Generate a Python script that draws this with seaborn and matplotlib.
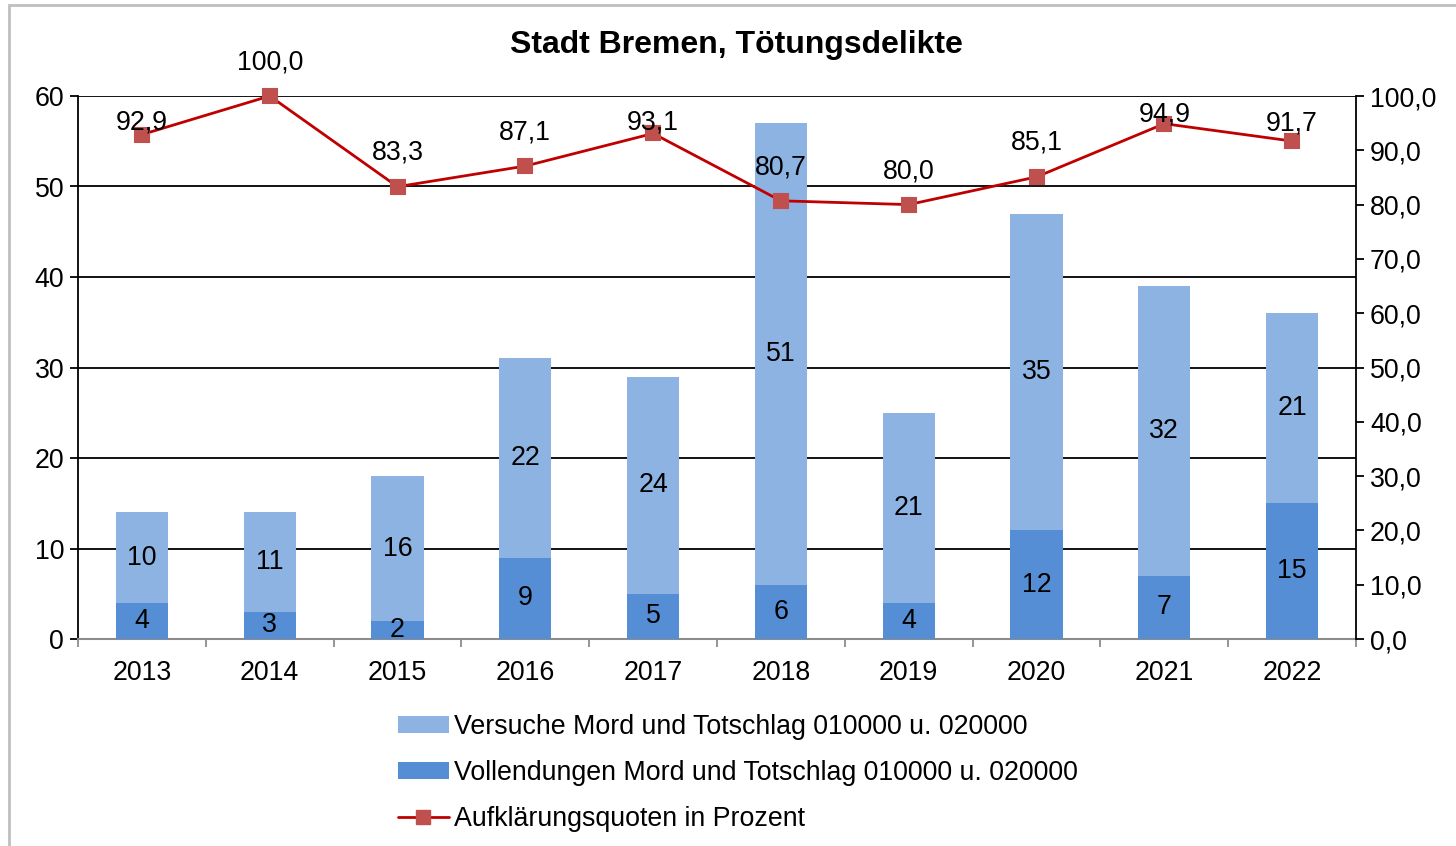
import numpy as np
import pandas as pd
import matplotlib
matplotlib.use("Agg")
import matplotlib.pyplot as plt
import seaborn as sns
from matplotlib.patches import Patch, Rectangle
from matplotlib.lines import Line2D

years = ["2013", "2014", "2015", "2016", "2017", "2018", "2019", "2020", "2021", "2022"]
vollendungen = [4, 3, 2, 9, 5, 6, 4, 12, 7, 15]
versuche = [10, 11, 16, 22, 24, 51, 21, 35, 32, 21]
quote = [92.9, 100.0, 83.3, 87.1, 93.1, 80.7, 80.0, 85.1, 94.9, 91.7]

# label offsets for the percentages (pixels above the marker)
label_dy = [12, 34, 34, 34, 11, 33, 33, 34, 9, 18]

light = "#8DB3E2"
dark = "#558ED5"
red_line = "#C00000"
red_mark = "#C0504D"
fs = 19.3

sns.set_style("white")
plt.rcParams["font.family"] = ["Liberation Sans", "DejaVu Sans"]
plt.rcParams["text.color"] = "black"
plt.rcParams["xtick.color"] = "black"
plt.rcParams["ytick.color"] = "black"

df = pd.DataFrame({"Jahr": years, "Vollendungen": vollendungen, "Versuche": versuche, "Quote": quote})
df["Gesamt"] = df["Vollendungen"] + df["Versuche"]

fig = plt.figure(figsize=(14.56, 8.46), dpi=100)
ax = fig.add_axes([78 / 1456, 1 - 639 / 846, 1278 / 1456, 543 / 846])

sns.barplot(data=df, x="Jahr", y="Gesamt", color=light, width=0.41, saturation=1, ax=ax,
            zorder=3, linewidth=0)
sns.barplot(data=df, x="Jahr", y="Vollendungen", color=dark, width=0.41, saturation=1, ax=ax,
            zorder=3, linewidth=0)

ax.set_ylim(0, 60)
ax.set_xlim(-0.5, len(years) - 0.5)
ax.set_yticks(range(0, 61, 10))
ax.set_xlabel("")
ax.set_ylabel("")
for y in range(10, 61, 10):
    ax.axhline(y, color="black", lw=1.3, zorder=1)

for i, row in df.iterrows():
    ax.text(i, row["Vollendungen"] / 2, str(row["Vollendungen"]), ha="center", va="center",
            fontsize=fs, zorder=5)
    ax.text(i, row["Vollendungen"] + row["Versuche"] / 2, str(row["Versuche"]), ha="center",
            va="center", fontsize=fs, zorder=5)

for s in ["top", "right"]:
    ax.spines[s].set_visible(False)
ax.spines["left"].set_color("black")
ax.spines["left"].set_linewidth(1.3)
ax.spines["bottom"].set_color("#8C8C8C")
ax.spines["bottom"].set_linewidth(1.5)
ax.tick_params(axis="y", direction="out", length=6, width=1.3, labelsize=fs, pad=4, left=True)
ax.tick_params(axis="x", which="major", length=0, labelsize=fs, pad=15)
ax.set_xticks(np.arange(-0.5, len(years), 1), minor=True)
ax.tick_params(axis="x", which="minor", direction="out", length=6, width=1.3, color="#8C8C8C", bottom=True)

ax2 = ax.twinx()
sns.pointplot(data=df, x="Jahr", y="Quote", color=red_line, markers="s", linestyles="-",
              ax=ax2, zorder=6, markersize=10, linewidth=2)
for coll in ax2.lines:
    coll.set_markerfacecolor(red_mark)
    coll.set_markeredgecolor(red_mark)
    coll.set_clip_on(False)
ax2.set_ylim(0, 100)
ax2.set_xlim(-0.5, len(years) - 0.5)
ax2.set_yticks(range(0, 101, 10))
ax2.set_yticklabels([f"{v},0" for v in range(0, 101, 10)])
ax2.set_ylabel("")
ax2.set_xlabel("")
for s in ["top", "left", "bottom"]:
    ax2.spines[s].set_visible(False)
ax2.spines["right"].set_color("black")
ax2.spines["right"].set_linewidth(1.3)
ax2.tick_params(axis="y", direction="out", length=6, width=1.3, labelsize=fs, pad=4, right=True)

for i, (q, dy) in enumerate(zip(quote, label_dy)):
    ax2.annotate(f"{q:.1f}".replace(".", ","), (i, q), xytext=(0, dy), textcoords="offset pixels",
                 ha="center", va="center", fontsize=fs, zorder=7)

fig.text(736 / 1456, 1 - 45 / 846, "Stadt Bremen, Tötungsdelikte", ha="center", va="center",
         fontsize=23, fontweight="bold")

handles = [
    Patch(facecolor=light, edgecolor="none"),
    Patch(facecolor=dark, edgecolor="none"),
    Line2D([], [], color=red_line, lw=2, marker="s", markersize=10,
           markerfacecolor=red_mark, markeredgecolor=red_mark),
]
labels = [
    "Versuche Mord und Totschlag 010000 u. 020000",
    "Vollendungen Mord und Totschlag 010000 u. 020000",
    "Aufklärungsquoten in Prozent",
]
fig.legend(handles, labels, loc="upper left", bbox_to_anchor=(398 / 1456, 1 - 714 / 846),
           frameon=False, fontsize=fs, handlelength=1.9, handleheight=0.6,
           handletextpad=0.2, labelspacing=0.75, borderpad=0, borderaxespad=0)

fig.patches.append(Rectangle((9 / 1456, -0.05), 1.1, 1.05 - 5 / 846, transform=fig.transFigure,
                             fill=False, edgecolor="#BFBFBF", lw=2))

fig.savefig("out.png", dpi=100)
